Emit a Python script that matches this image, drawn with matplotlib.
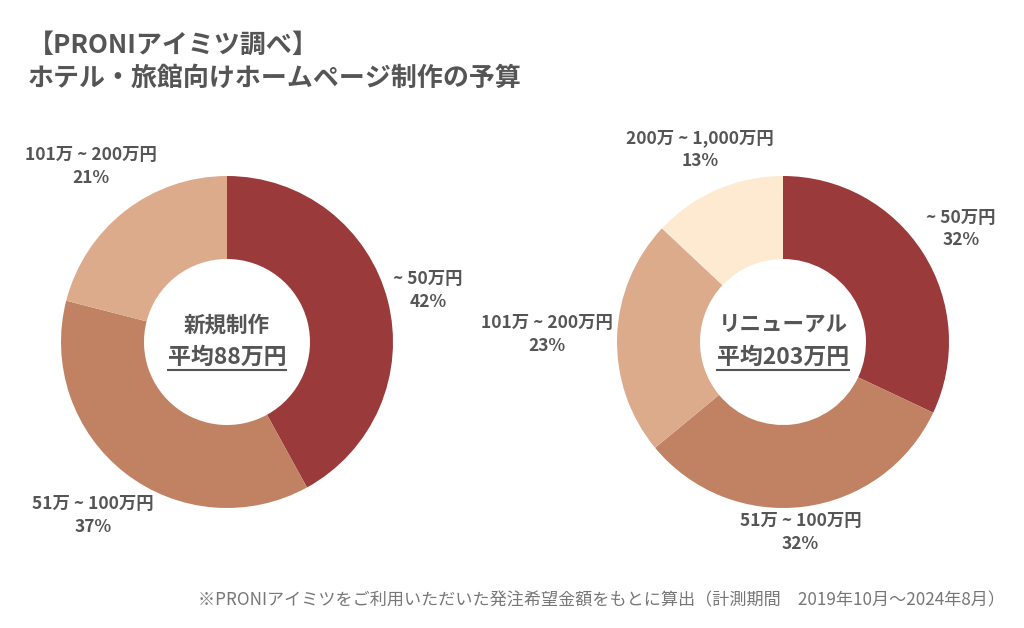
import numpy as np
import matplotlib
matplotlib.use("Agg")
from matplotlib import pyplot as plt

plt.rcParams['font.family'] = ['Noto Sans CJK JP', 'DejaVu Sans']

# data
new_labels = ['~ 50万円', '51万 ~ 100万円', '101万 ~ 200万円']
new_values = [42, 37, 21]
renew_labels = ['~ 50万円', '51万 ~ 100万円', '101万 ~ 200万円', '200万 ~ 1,000万円']
renew_values = [32, 32, 23, 13]

new_center = ['新規制作', '平均88万円']
renew_center = ['リニューアル', '平均203万円']

colors = ['#9A3A3B', '#C08262', '#DCAB8B', '#FDEAD0']
text_col = '#555555'

# label placement (distance in radii, angle shift in degrees)
new_lab_pos = [(1.25, 0), (1.32, 0), (1.34, 0)]
renew_lab_pos = [(1.27, 0), (1.155, -2), (1.42, 0), (1.26, 0)]

W, H = 1024, 628
fig = plt.figure(figsize=(W / 100, H / 100), dpi=100)
fig.patch.set_facecolor('white')

R = 166  # pie radius in pixels
EXT = 1.5


def donut_axes(cx, cy):
    half = EXT * R
    ax = fig.add_axes([(cx - half) / W, (H - cy - half) / H, 2 * half / W, 2 * half / H])
    return ax


def draw_donut(ax, values, labels, lab_pos, center):
    wedges, _ = ax.pie(values, colors=colors[:len(values)], startangle=90,
                       counterclock=False, radius=1,
                       wedgeprops=dict(width=0.5, linewidth=0))
    ax.set_xlim(-EXT, EXT)
    ax.set_ylim(-EXT, EXT)
    ax.set_aspect('equal')
    ax.axis('off')
    for w, lab, v, (d, shift) in zip(wedges, labels, values, lab_pos):
        ang = np.deg2rad((w.theta1 + w.theta2) / 2 + shift)
        ax.text(d * np.cos(ang), d * np.sin(ang), f'{lab}\n{v}%',
                ha='center', va='center', fontsize=12.5, fontweight='bold',
                color=text_col, linespacing=1.35)
    ax.text(0, 0.1, center[0], ha='center', va='center', fontsize=15.5,
            fontweight='bold', color=text_col)
    t = ax.text(0, -0.09, center[1], ha='center', va='center', fontsize=16.5,
                fontweight='bold', color=text_col)
    return t


ax1 = donut_axes(227, 342)
t1 = draw_donut(ax1, new_values, new_labels, new_lab_pos, new_center)
ax2 = donut_axes(783, 342)
t2 = draw_donut(ax2, renew_values, renew_labels, renew_lab_pos, renew_center)

fig.text(28 / W, 1 - 45 / H, '【PRONIアイミツ調べ】', fontsize=18.7, fontweight='bold',
         color=text_col, ha='left', va='center')
fig.text(28 / W, 1 - 78 / H, 'ホテル・旅館向けホームページ制作の予算', fontsize=18.7,
         fontweight='bold', color=text_col, ha='left', va='center')
fig.text(1005 / W, 1 - 600 / H,
         '※PRONIアイミツをご利用いただいた発注希望金額をもとに算出（計測期間　2019年10月〜2024年8月）',
         fontsize=12.3, color='#777777', ha='right', va='center')

# underline the average text
fig.canvas.draw()
r = fig.canvas.get_renderer()
for t in (t1, t2):
    bb = t.get_window_extent(r)
    y = bb.y0 - 2
    fig.add_artist(plt.Line2D([bb.x0 / W, bb.x1 / W], [y / H, y / H],
                              color=text_col, linewidth=1.5))

fig.savefig('out.png', dpi=100, facecolor='white')
